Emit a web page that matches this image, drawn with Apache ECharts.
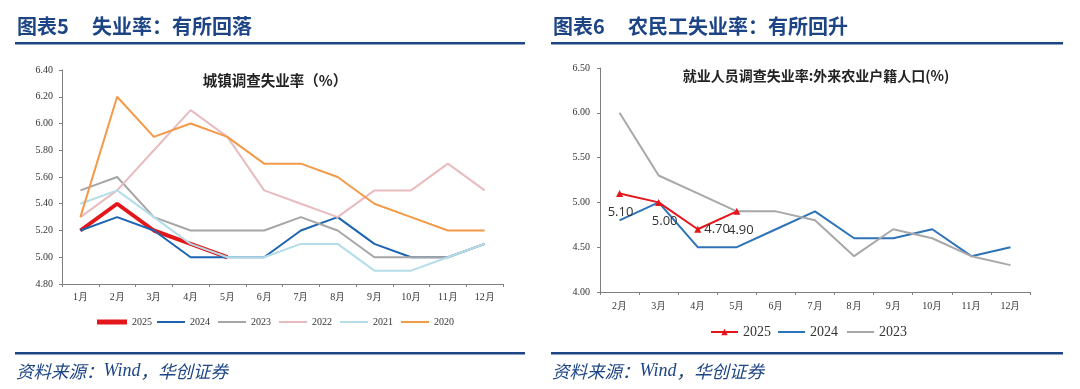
<!DOCTYPE html>
<html><head><meta charset="utf-8">
<script src="https://cdn.jsdelivr.net/npm/echarts@6/dist/echarts.min.js"></script>
<style>html,body{margin:0;padding:0;background:#fff}#c{width:1080px;height:389px}</style>
</head><body><div id="c"></div>
<script>
// ---- data: left chart (城镇调查失业率) ----
const monthsL = ['1月','2月','3月','4月','5月','6月','7月','8月','9月','10月','11月','12月'];
const u2025 = [5.2, 5.4, 5.2, 5.1, 5.0];
const u2024 = [5.2, 5.3, 5.2, 5.0, 5.0, 5.0, 5.2, 5.3, 5.1, 5.0, 5.0, 5.1];
const u2023 = [5.5, 5.6, 5.3, 5.2, 5.2, 5.2, 5.3, 5.2, 5.0, 5.0, 5.0, 5.1];
const u2022 = [5.3, 5.5, 5.8, 6.1, 5.9, 5.5, 5.4, 5.3, 5.5, 5.5, 5.7, 5.5];
const u2021 = [5.4, 5.5, 5.3, 5.1, 5.0, 5.0, 5.1, 5.1, 4.9, 4.9, 5.0, 5.1];
const u2020 = [5.3, 6.2, 5.9, 6.0, 5.9, 5.7, 5.7, 5.6, 5.4, 5.3, 5.2, 5.2];
// ---- data: right chart (外来农业户籍人口) ----
const monthsR = ['2月','3月','4月','5月','6月','7月','8月','9月','10月','11月','12月'];
const m2025 = [5.1, 5.0, 4.7, 4.9];
const m2024 = [4.8, 5.0, 4.5, 4.5, 4.7, 4.9, 4.6, 4.6, 4.7, 4.4, 4.5];
const m2023 = [6.0, 5.3, 5.1, 4.9, 4.9, 4.8, 4.4, 4.7, 4.6, 4.4, 4.3];
const labelPos2025 = ['bottom', 'bottom', 'right', 'bottom'];
const labelOffset2025 = [[1, 0], [6, 0], [0, 0], [4, 0]];
const labelDist2025 = [9, 9, 3, 9];

const navy = '#1d4585';
const serif = '"Liberation Serif","Times New Roman",serif';
const cjk = '"Noto Sans CJK SC",sans-serif';
const axisLineStyle = {color: '#7f7f7f', width: 1};

const chart = echarts.init(document.getElementById('c'), null, {renderer: 'canvas'});

function ln(name, data, color, width, xi, extra) {
  return Object.assign({
    name, type: 'line', data, xAxisIndex: xi, yAxisIndex: xi,
    symbol: 'none', showSymbol: false, smooth: false,
    lineStyle: {color, width}, itemStyle: {color},
    emphasis: {disabled: true}
  }, extra || {});
}

function hdr(x, num, text) {
  return [
    {type: 'text', left: x, top: 16, style: {text: num, font: 'bold 20px ' + cjk, fill: navy}},
    {type: 'text', left: x + 75, top: 16, style: {text: text, font: 'bold 20px ' + cjk, fill: navy}}
  ];
}
function src(x) {
  return {type: 'text', left: x, top: 362, style: {
    text: '{a|资料来源：}{b|Wind}{a|，华创证券}',
    rich: {a: {font: 'italic 17.5px ' + cjk, fill: navy}, b: {font: 'italic 18px ' + serif, fill: navy}}
  }};
}

const legendText = {fontFamily: serif, fontSize: 10, color: '#333'};
const legendTextR = {fontFamily: serif, fontSize: 14, color: '#333'};

chart.setOption({
  animation: false,
  title: [
    {text: '城镇调查失业率（%）', left: 270, top: 68, textAlign: 'center', textStyle: {fontFamily: cjk, fontSize: 14.5, fontWeight: 'bold', color: '#222'}},
    {text: '就业人员调查失业率:外来农业户籍人口(%)', left: 811, top: 64, textAlign: 'center', textStyle: {fontFamily: cjk, fontSize: 14, fontWeight: 'bold', color: '#222'}}
  ],
  graphic: [
    ...hdr(17, '图表5', '失业率：有所回落'),
    ...hdr(553, '图表6', '农民工失业率：有所回升'),
    {type: 'rect', shape: {x: 15, y: 42, width: 510, height: 2.5}, style: {fill: navy}},
    {type: 'rect', shape: {x: 551, y: 42, width: 512, height: 2.5}, style: {fill: navy}},
    {type: 'rect', shape: {x: 15, y: 352, width: 510, height: 2.5}, style: {fill: navy}},
    {type: 'rect', shape: {x: 551, y: 352, width: 512, height: 2.5}, style: {fill: navy}},
    src(16), src(552)
  ],
  legend: [
    {data: ['2025'], left: 97, top: 317, padding: 0, icon: 'rect', itemWidth: 30, itemHeight: 5, textStyle: legendText},
    {data: ['2024','2023','2022','2021','2020'], left: 157, top: 317, padding: 0, icon: 'rect', itemWidth: 28, itemHeight: 2, itemGap: 8, textStyle: legendText},
    {data: ['2025 '], left: 710, top: 325, padding: 0, itemWidth: 27, itemHeight: 8, formatter: n => n.trim(), textStyle: legendTextR},
    {data: ['2024 ', '2023 '], left: 778, top: 325, padding: 0, icon: 'rect', itemWidth: 27, itemHeight: 2, itemGap: 9, formatter: n => n.trim(), textStyle: legendTextR}
  ],
  grid: [
    {left: 62, right: 577, top: 70, bottom: 105, containLabel: false},
    {left: 600, right: 50, top: 68, bottom: 97, containLabel: false}
  ],
  xAxis: [
    {type: 'category', data: monthsL, gridIndex: 0, boundaryGap: true,
     axisLine: {lineStyle: axisLineStyle}, axisTick: {show: true, length: 3, lineStyle: axisLineStyle},
     axisLabel: {fontFamily: serif, fontSize: 10, color: '#333', margin: 8}, splitLine: {show: false}},
    {type: 'category', data: monthsR, gridIndex: 1, boundaryGap: true,
     axisLine: {lineStyle: axisLineStyle}, axisTick: {show: true, length: 3, lineStyle: axisLineStyle},
     axisLabel: {fontFamily: serif, fontSize: 10, color: '#333', margin: 9}, splitLine: {show: false}}
  ],
  yAxis: [
    {type: 'value', gridIndex: 0, min: 4.8, max: 6.4, interval: 0.2,
     axisLine: {show: true, lineStyle: axisLineStyle}, axisTick: {show: true, length: 3, lineStyle: axisLineStyle},
     axisLabel: {fontFamily: serif, fontSize: 10, color: '#333', margin: 9, formatter: v => v.toFixed(2)}, splitLine: {show: false}},
    {type: 'value', gridIndex: 1, min: 4.0, max: 6.5, interval: 0.5,
     axisLine: {show: true, lineStyle: axisLineStyle}, axisTick: {show: true, length: 3, lineStyle: axisLineStyle},
     axisLabel: {fontFamily: serif, fontSize: 10, color: '#333', margin: 10, formatter: v => v.toFixed(2)}, splitLine: {show: false}}
  ],
  series: [
    ln('2025', u2025, '#e3161c', 4, 0),
    ln('2024', u2024, '#1c64b2', 2, 0),
    ln('2023', u2023, '#a6a6a6', 2, 0),
    ln('2022', u2022, '#e8bcbf', 2, 0),
    ln('2021', u2021, '#b5dde8', 2, 0),
    ln('2020', u2020, '#f39a48', 2, 0),
    ln('2024 ', m2024, '#2e73b8', 2, 1),
    ln('2023 ', m2023, '#a8a8a8', 2, 1),
    ln('2025 ', m2025.map((v, i) => ({value: v, label: {position: labelPos2025[i], offset: labelOffset2025[i], distance: labelDist2025[i]}})), '#e3161c', 2, 1, {
      symbol: 'triangle', showSymbol: true, symbolSize: 7, z: 5,
      label: {show: true, formatter: p => p.value.toFixed(2), fontFamily: '"Open Sans","Liberation Sans",sans-serif', fontSize: 13, color: '#333'}
    })
  ]
});
</script></body></html>
